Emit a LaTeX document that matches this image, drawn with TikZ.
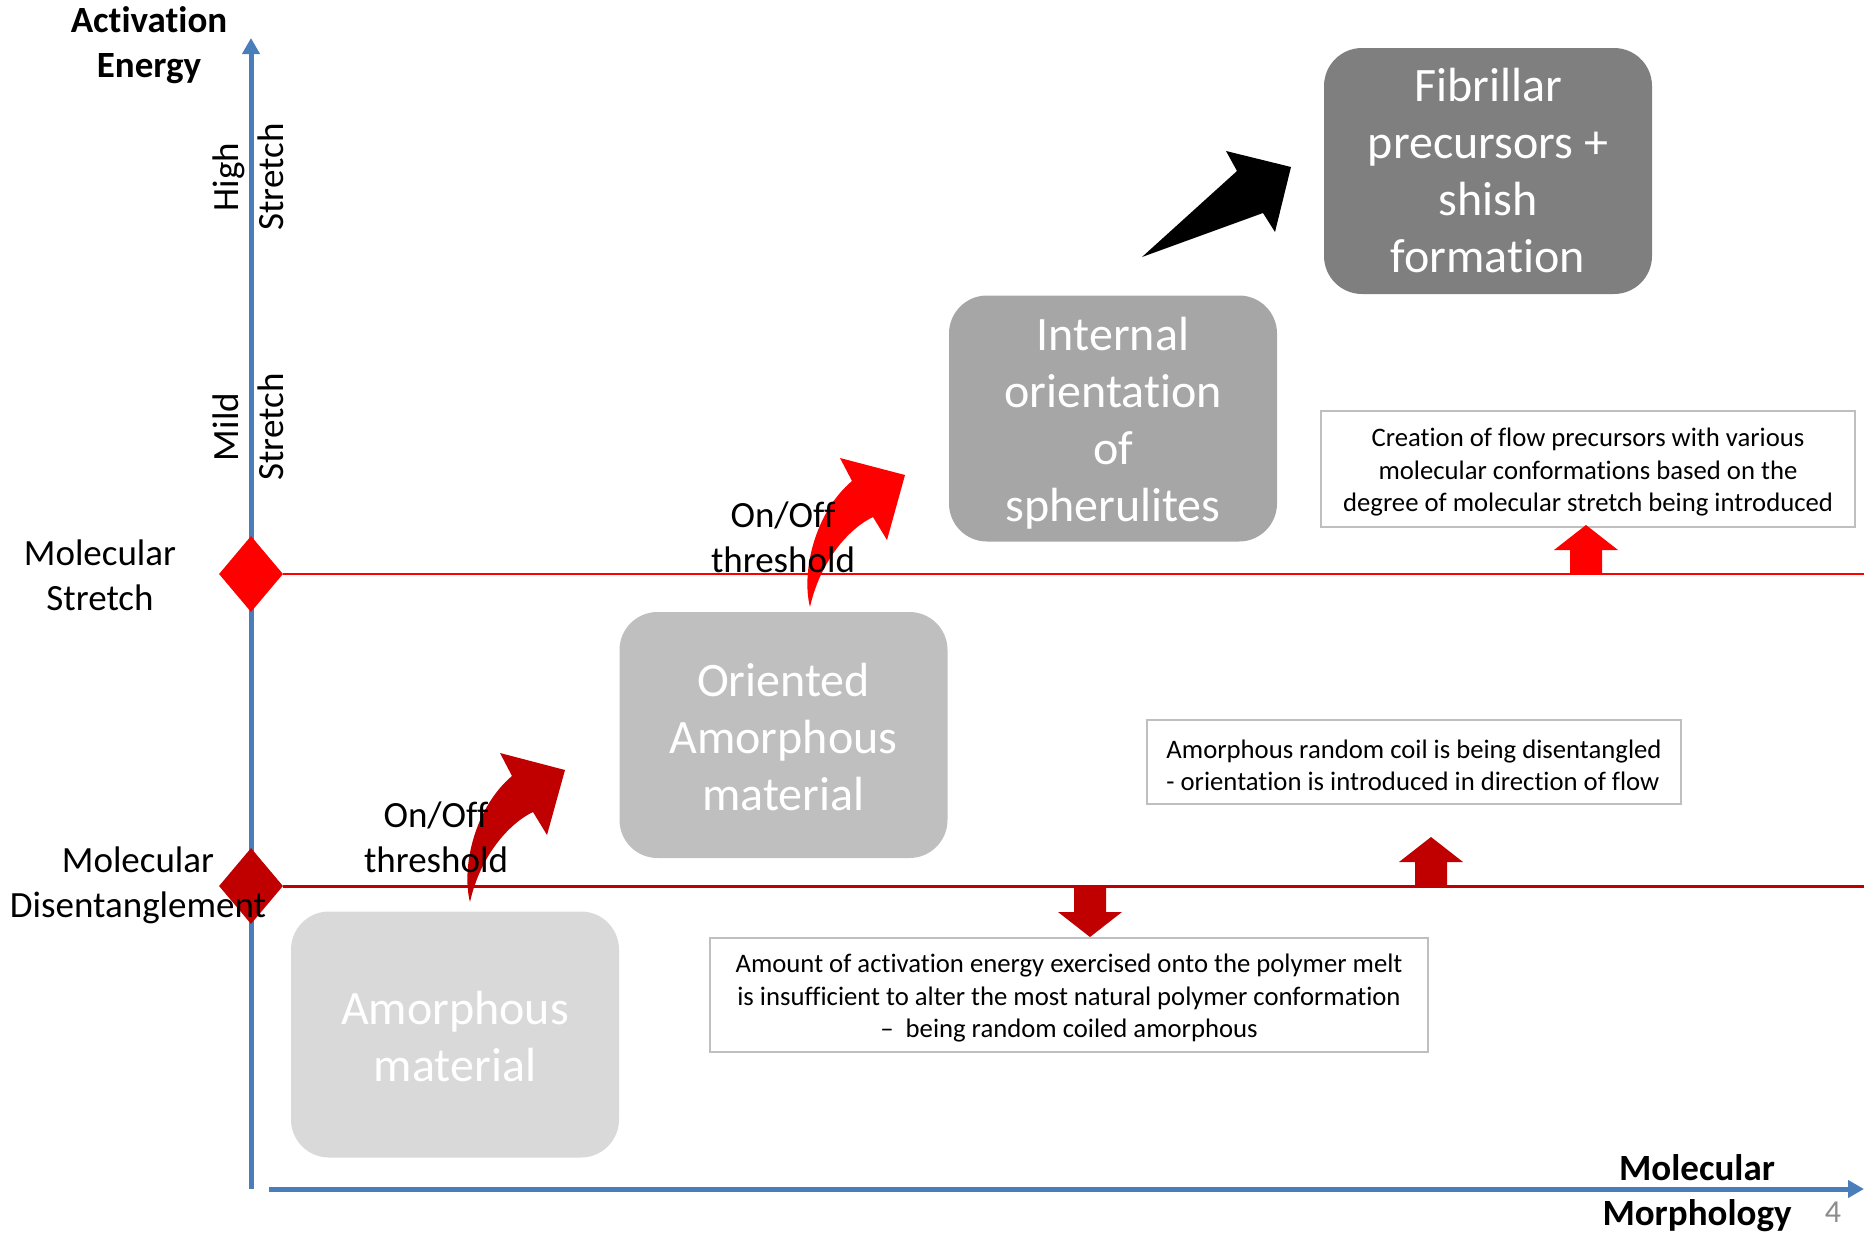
\documentclass[tikz,border=0pt]{standalone}
\usepackage{fontspec}
\setmainfont{Carlito}[Ligatures={TeX,NoCommon}]
\usetikzlibrary{arrows.meta,shapes.geometric}
\definecolor{axisblue}{HTML}{4A7EBB}
\definecolor{brightred}{HTML}{FF0000}
\definecolor{darkred}{HTML}{C00000}
\definecolor{notegrey}{HTML}{BFBFBF}
\definecolor{stageA}{HTML}{D9D9D9}
\definecolor{stageB}{HTML}{BFBFBF}
\definecolor{stageC}{HTML}{A6A6A6}
\definecolor{stageD}{HTML}{7F7F7F}
\definecolor{pagegrey}{HTML}{8C8C8C}
\begin{document}
\begin{tikzpicture}[x=1pt,y=1pt,
  lbl/.style={font=\fontsize{37}{45}\selectfont, align=center, inner sep=0pt},
  blbl/.style={font=\fontsize{37}{45}\selectfont\bfseries, align=center, inner sep=0pt},
  stagebox/.style={rounded corners=38pt, minimum width=328pt, minimum height=246pt, inner sep=0pt},
  stagetext/.style={inner sep=0pt, text=white, font=\fontsize{48}{57}\selectfont, align=center},
  notebox/.style={draw=notegrey, line width=1.6pt, fill=white, inner sep=0pt},
  notetext/.style={font=\fontsize{26.7}{32.5}\selectfont, inner sep=0pt},
  axisline/.style={draw=axisblue, line width=5pt, -{Triangle[length=16pt,width=17pt]}},
  marker/.style={diamond, minimum width=64pt, minimum height=76pt, inner sep=0pt},
  curvedarrow/.style={line join=miter}
]
\useasboundingbox (0,0) rectangle (1864,-1232);

% axes
\coordinate (vBottom) at (251,-1189);
\coordinate (vTop) at (251,-38);
\coordinate (hLeft) at (269,-1189);
\coordinate (hRight) at (1864,-1189);
\draw[axisline] (vBottom) -- (vTop);
\draw[axisline] (hLeft) -- (hRight);

% threshold lines and markers
\node[marker, fill=brightred] (dS) at (251,-574) {};
\node[marker, fill=darkred] (dD) at (251,-886) {};
\coordinate (sEnd) at (1864,-574);
\coordinate (dEnd) at (1864,-886);
\draw[brightred, line width=2.8pt] (dS.east) -- (sEnd);
\draw[darkred, line width=3pt] (dD.east) -- (dEnd);

% stage boxes
\node[stagebox, fill=stageA] (s1) at (455,-1034.5) {};
\node[stagebox, fill=stageB] (s2) at (783.5,-735) {};
\node[stagebox, fill=stageC] (s3) at (1113,-418.5) {};
\node[stagebox, fill=stageD] (s4) at (1488,-171) {};
\node[stagetext] (s1t) at ([yshift=-1.5pt]s1.center) {Amorphous\\material};
\node[stagetext] (s2t) at ([yshift=-1.5pt]s2.center) {Oriented\\Amorphous\\material};
\node[stagetext] (s3t) at ([yshift=-5pt]s3.center) {Internal\\orientation\\of\\spherulites};
\node[stagetext] (s4t) at ([yshift=0pt]s4.center) {Fibrillar\\precursors +\\shish\\formation};

% notes
\node[notebox, minimum width=534pt, minimum height=116pt] (nA) at (1588,-469) {};
\node[notebox, minimum width=534pt, minimum height=84pt] (nB) at (1414,-762) {};
\node[notebox, minimum width=718pt, minimum height=114pt] (nC) at (1069,-995) {};
\node[notetext, align=center] (nAt) at ([yshift=-3.5pt]nA.center)
  {Creation of flow precursors with various\\molecular conformations based on the\\degree of molecular stretch being introduced};
\node[notetext, align=left] (nBt) at ([yshift=-3.5pt]nB.center)
  {Amorphous random coil is being disentangled\\- orientation is introduced in direction of flow};
\node[notetext, align=center] (nCt) at ([yshift=-3.5pt]nC.center)
  {Amount of activation energy exercised onto the polymer melt\\is insufficient to alter the most natural polymer conformation\\–\ \ being random coiled amorphous};

% block arrows between lines and notes
\fill[brightred] (1570,-574) -- (1570,-550) -- (1554,-550) -- (1586,-525) -- (1618,-550) -- (1602,-550) -- (1602,-574) -- cycle;
\fill[darkred] (1415,-887) -- (1415,-862) -- (1399,-862) -- (1431,-837) -- (1463,-862) -- (1447,-862) -- (1447,-887) -- cycle;
\fill[darkred] (1074,-887) -- (1074,-912) -- (1058,-912) -- (1090,-937) -- (1122,-912) -- (1106,-912) -- (1106,-887) -- cycle;

% curved threshold arrows
\fill[darkred, curvedarrow, shift={(470,-902)}]
  (0,0) .. controls (-9,35) and (5,95) .. (42,126) -- (30,149) -- (95,132) -- (77,67) -- (63,90)
  .. controls (38,78) and (10,45) .. (0,0) -- cycle;
\fill[brightred, curvedarrow, shift={(810,-607)}]
  (0,0) .. controls (-9,35) and (5,95) .. (42,126) -- (30,149) -- (95,132) -- (77,67) -- (63,90)
  .. controls (38,78) and (10,45) .. (0,0) -- cycle;

% black arrow
\fill[black] (1142,-257) -- (1237,-171) -- (1226,-151) -- (1291,-167) -- (1275,-232) -- (1263,-213) -- cycle;

% labels
\node[blbl] (yl) at (149,-45.5) {Activation\\Energy};
\node[blbl] (xl) at (1697,-1193.5) {Molecular\\Morphology};
\node[lbl, rotate=90] (hs) at (248,-177) {High\\Stretch};
\node[lbl, rotate=90] (ms) at (248,-427) {Mild\\Stretch};
\node[lbl] (lS) at (100,-575) {Molecular\\Stretch};
\node[lbl] (lD) at (138,-885.5) {Molecular\\Disentanglement};
\node[lbl] (t1) at (436,-837) {On/Off\\threshold};
\node[lbl] (t2) at (783,-537) {On/Off\\threshold};
\node[font=\fontsize{32}{38}\selectfont, text=pagegrey, inner sep=0pt] (pg) at (1833,-1212) {4};
\end{tikzpicture}
\end{document}
